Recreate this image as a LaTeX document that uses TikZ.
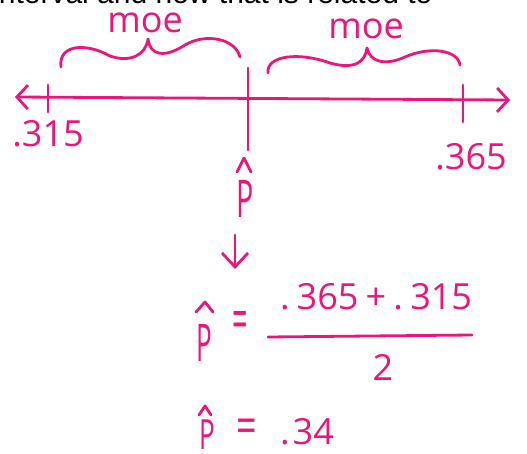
\documentclass[tikz,border=0pt]{standalone}
\usepackage{fontspec}
\setmainfont{Open Sans}
\newfontfamily\topfont{Liberation Sans}
\usetikzlibrary{arrows.meta}
\definecolor{ink}{RGB}{236,22,122}
\begin{document}
\begin{tikzpicture}[x=1pt,y=-1pt,
  pen/.style={draw=ink,line width=2.8pt,line cap=round,line join=round},
  barb/.tip={Straight Barb[length=11pt,width=24pt,line width=2.8pt]},
  hand/.style={text=ink,inner sep=0pt,font=\fontsize{36}{38}\selectfont},
  bigp/.style={text=ink,inner sep=0pt,font=\fontsize{52}{52}\selectfont},
]
\useasboundingbox (0,0) rectangle (527,454);
\clip (0,0) rectangle (527,454);
\fill[white] (0,0) rectangle (527,454);

% clipped printed line at the top
\node[anchor=base west,inner sep=0pt,font=\topfont\fontsize{30}{32}\selectfont] (top) at (-8,4) {interval and how that is related to};

% number line
\coordinate (lineL) at (15,97);
\coordinate (lineR) at (510,100);
\draw[pen,barb-barb] (lineL) -- (lineR);

\coordinate (t1a) at (48,85);  \coordinate (t1b) at (48,112);
\coordinate (t2a) at (248,68); \coordinate (t2b) at (248,150);
\coordinate (t3a) at (463,85); \coordinate (t3b) at (463,122);
\draw[pen] (t1a) -- (t1b);
\draw[pen] (t2a) -- (t2b);
\draw[pen] (t3a) -- (t3b);

\node[hand] (l315) at (48,134) {.315};
\node[hand] (l365) at (471,157) {.365};

% braces
\draw[pen] (61,67) .. controls (58,45) and (85,42) .. (110,56)
  .. controls (130,63) and (146,55) .. (148,39)
  .. controls (150,56) and (165,58) .. (185,45)
  .. controls (205,33) and (235,38) .. (240,57);
\draw[pen] (268,73) .. controls (266,55) and (300,52) .. (330,63)
  .. controls (355,70) and (365,62) .. (367,48)
  .. controls (370,62) and (385,66) .. (405,57)
  .. controls (430,46) and (458,50) .. (460,65);
\node[hand] (moeL) at (145,23) {moe};
\node[hand] (moeR) at (366,29) {moe};

% p-hat under the middle tick
\node[bigp] (phat) at (245,199) {\scalebox{0.55}[1]{P}};
\draw[pen] (237,172) -- (244,158) -- (251,172);

% down arrow
\coordinate (arrS) at (235,235);
\coordinate (arrE) at (235,269);
\draw[pen,-{Straight Barb[length=14pt,width=26pt,line width=2.8pt]}] (arrS) -- (arrE);

% first equation
\node[bigp] (p1) at (204,343) {\scalebox{0.5}[1]{P}};
\draw[pen] (196,312) -- (205,302) -- (213,312);
\node[hand] (eq1) at (240,326) {\scalebox{0.75}[1.6]{=}};
\node[hand] (num) at (376,297) {\makebox[192pt][s]{.\hspace{0pt plus 1fil}365\hspace{0pt plus 1fil}+\hspace{0pt plus 1fil}.\hspace{0pt plus 1fil}315}};
\coordinate (barL) at (268,337);
\coordinate (barR) at (472,335);
\draw[pen] (barL) -- (barR);
\node[hand] (den) at (383,367) {2};

% second equation
\node[bigp] (p2) at (207,435) {\scalebox{0.5}[0.8]{P}};
\draw[pen] (199,415) -- (205,406) -- (211,415);
\node[hand] (eq2) at (247,431) {\scalebox{1}[1.4]{=}};
\node[hand] (val) at (307,432) {.\hspace{3pt}34};
\end{tikzpicture}
\end{document}
